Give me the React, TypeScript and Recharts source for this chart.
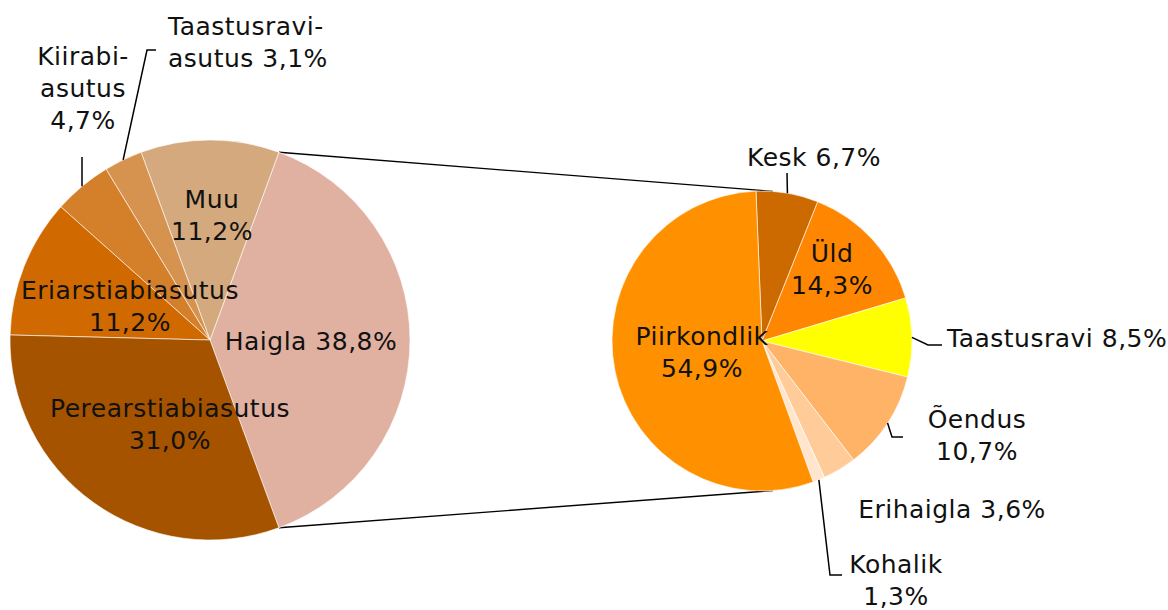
import { PieChart, Pie, Cell, Customized } from "recharts";

// main pie (asutuse liik)
const LEFT_CATEGORIES = ["Haigla", "Muu", "Taastusravi-asutus", "Kiirabiasutus", "Eriarstiabiasutus", "Perearstiabiasutus"];
const LEFT_VALUES = [38.8, 11.2, 3.1, 4.7, 11.2, 31.0];
const LEFT_LABEL_LINES = [["Haigla {v}"], ["Muu", "{v}"], ["Taastusravi-", "asutus {v}"], ["Kiirabi-", "asutus", "{v}"], ["Eriarstiabiasutus", "{v}"], ["Perearstiabiasutus", "{v}"]];
const LEFT_COLORS = ["#E0B0A0", "#D4A97D", "#D6934F", "#D47F2A", "#D06A00", "#A65300"];

// second pie (haigla liik)
const RIGHT_CATEGORIES = ["Kesk", "Üld", "Taastusravi", "Õendus", "Erihaigla", "Kohalik", "Piirkondlik"];
const RIGHT_VALUES = [6.7, 14.3, 8.5, 10.7, 3.6, 1.3, 54.9];
const RIGHT_LABEL_LINES = [["Kesk {v}"], ["Üld", "{v}"], ["Taastusravi {v}"], ["Õendus", "{v}"], ["Erihaigla {v}"], ["Kohalik", "{v}"], ["Piirkondlik", "{v}"]];
const RIGHT_COLORS = ["#CC6A00", "#FF8600", "#FFFF00", "#FFB366", "#FFCC99", "#FFE5CC", "#FF9100"];

// label placement, offsets from pie centre
type LabelPos = { dx: number; dy: number; anchor?: "start" | "middle"; leader?: [number, number][] };
const LEFT_LABEL_POS: LabelPos[] = [
  { dx: 101, dy: 10 },
  { dx: 2, dy: -132 },
  { dx: -42, dy: -305, anchor: "start", leader: [[-63, -290], [-54, -290]] },
  { dx: -127, dy: -275, leader: [[-128, -183]] },
  { dx: -80, dy: -41 },
  { dx: -40, dy: 77 },
];
const RIGHT_LABEL_POS: LabelPos[] = [
  { dx: 52, dy: -175, leader: [[25, -168]] },
  { dx: 70, dy: -79 },
  { dx: 185, dy: 6, anchor: "start", leader: [[166, 4], [180, 4]] },
  { dx: 215, dy: 87, leader: [[130, 96], [141, 96]] },
  { dx: 190, dy: 177 },
  { dx: 134, dy: 232, leader: [[68, 234], [80, 234]] },
  { dx: -60, dy: 4 },
];

const WIDTH = 1168;
const HEIGHT = 610;
const LEFT_CX = 210;
const LEFT_CY = 340;
const LEFT_R = 200;
const RIGHT_CX = 762;
const RIGHT_CY = 341;
const RIGHT_R = 150;
const RIGHT_START = 92.3;
const LINK_ANGLE = 85.8;
const FONT = "'DejaVu Sans', sans-serif";
const FONT_SIZE = 25;
const LINE_H = 32;

const leftData = LEFT_CATEGORIES.map((name, i) => ({ name, value: LEFT_VALUES[i] }));
const rightData = RIGHT_CATEGORIES.map((name, i) => ({ name, value: RIGHT_VALUES[i] }));

const fmtPct = (v: number) => `${v.toFixed(1).replace(".", ",")}%`;
const RAD = Math.PI / 180;

function makeLabel(lines: string[][], positions: LabelPos[]) {
  return (props: any) => {
    const { cx, cy, midAngle, outerRadius, index, value } = props;
    const pos = positions[index];
    const text = lines[index].map((l) => l.replace("{v}", fmtPct(value)));
    const sx = cx + outerRadius * Math.cos(-midAngle * RAD);
    const sy = cy + outerRadius * Math.sin(-midAngle * RAD);
    return (
      <g key={`lbl-${index}`}>
        {pos.leader && (
          <polyline
            points={[[sx, sy], ...pos.leader.map(([x, y]) => [cx + x, cy + y])].map((p) => p.join(",")).join(" ")}
            fill="none"
            stroke="#000"
            strokeWidth={1.5}
          />
        )}
        <text
          x={cx + pos.dx}
          y={cy + pos.dy}
          textAnchor={pos.anchor ?? "middle"}
          fill="#111"
          fontFamily={FONT}
          fontSize={FONT_SIZE}
          letterSpacing={0.5}
        >
          {text.map((t, i) => (
            <tspan key={i} x={cx + pos.dx} dy={i === 0 ? 0 : LINE_H}>
              {t}
            </tspan>
          ))}
        </text>
      </g>
    );
  };
}

function ConnectorLines() {
  // Haigla slice is centred on the 3 o'clock direction of the main pie
  const half = (LEFT_VALUES[0] / 100) * 180;
  const pts = [1, -1].map((s) => {
    const a = s * half * RAD;
    const b = s * LINK_ANGLE * RAD;
    return {
      x1: LEFT_CX + LEFT_R * Math.cos(a),
      y1: LEFT_CY - LEFT_R * Math.sin(a),
      x2: RIGHT_CX + RIGHT_R * Math.cos(b),
      y2: RIGHT_CY - RIGHT_R * Math.sin(b),
    };
  });
  return (
    <g>
      {pts.map((p, i) => (
        <line key={i} {...p} stroke="#000" strokeWidth={1.3} />
      ))}
    </g>
  );
}

export default function App() {
  const leftStart = -(LEFT_VALUES[0] / 100) * 180;
  return (
    <div style={{ position: "absolute", left: 0, top: 0, width: WIDTH, height: HEIGHT, background: "#fff" }}>
      <PieChart width={WIDTH} height={HEIGHT} margin={{ top: 0, right: 0, bottom: 0, left: 0 }}>
        <Pie
          data={leftData}
          dataKey="value"
          nameKey="name"
          cx={LEFT_CX}
          cy={LEFT_CY}
          outerRadius={LEFT_R}
          startAngle={leftStart}
          endAngle={leftStart + 360}
          stroke="#fff"
          strokeWidth={0.6}
          labelLine={false}
          label={makeLabel(LEFT_LABEL_LINES, LEFT_LABEL_POS)}
          isAnimationActive={false}
        >
          {leftData.map((d, i) => (
            <Cell key={d.name} fill={LEFT_COLORS[i]} />
          ))}
        </Pie>
        <Pie
          data={rightData}
          dataKey="value"
          nameKey="name"
          cx={RIGHT_CX}
          cy={RIGHT_CY}
          outerRadius={RIGHT_R}
          startAngle={RIGHT_START}
          endAngle={RIGHT_START - 360}
          stroke="#fff"
          strokeWidth={0.6}
          labelLine={false}
          label={makeLabel(RIGHT_LABEL_LINES, RIGHT_LABEL_POS)}
          isAnimationActive={false}
        >
          {rightData.map((d, i) => (
            <Cell key={d.name} fill={RIGHT_COLORS[i]} />
          ))}
        </Pie>
        <Customized component={ConnectorLines} />
      </PieChart>
    </div>
  );
}
